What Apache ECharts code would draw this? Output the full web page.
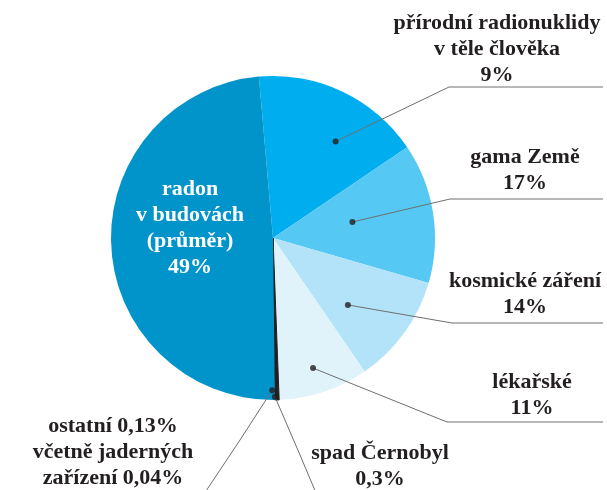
<!DOCTYPE html>
<html>
<head>
<meta charset="utf-8">
<script src="https://cdn.jsdelivr.net/npm/echarts@6/dist/echarts.min.js"></script>
<style>
  html, body { margin: 0; padding: 0; background: #fff; }
  #chart { width: 607px; height: 490px; }
</style>
</head>
<body>
<div id="chart"></div>
<script>
// slices clockwise from the top
const sliceNames = ['prirodni', 'gama', 'kosmicke', 'lekarske', 'cernobyl', 'ostatni', 'radon']
const sliceValues = [17, 14, 11, 9, 0.3, 0.13, 49]
const labelTexts = [
  'přírodní radionuklidy\nv těle člověka\n9%',
  'gama Země\n17%',
  'kosmické záření\n14%',
  'lékařské\n11%',
  'spad Černobyl\n0,3%',
  'ostatní 0,13%\nvčetně jaderných\nzařízení 0,04%',
  'radon\nv budovách\n(průměr)\n49%'
]
const sliceColors = ['#00aeef', '#55c9f3', '#b3e3f8', '#e0f3fb', '#231f20', '#231f20', '#0094ca']

// where the leader lines start inside the slices: [radius fraction, angle from top]
const anchors = [[0.71, 33], [0.5, 78.6], [0.62, 131.8], [0.84, 162.9], [0.98, 179.3], [0.94, 180.3]]

const CX = 273
const CY = 238
const R = 162

// label centre + leader line bend / end
const labelLayoutTable = [
  { x: 497, y: 49, line: [[449, 87], [603, 87]] },
  { x: 525, y: 170, line: [[450, 199], [603, 199]] },
  { x: 525, y: 294, line: [[452, 323], [603, 323]] },
  { x: 532, y: 395, line: [[447, 422], [603, 422]] },
  { x: 380, y: 466, line: [[300, 455], [319, 500]] },
  { x: 113, y: 452, line: [[240, 440], [200, 500]] },
  { x: 190, y: 228, line: null }
]

const anchorPixel = (i) => {
  const [f, a] = anchors[i]
  const rad = (a * Math.PI) / 180
  return [CX + f * R * Math.sin(rad), CY - f * R * Math.cos(rad)]
}

const chart = echarts.init(document.getElementById('chart'))

const labelFont = {
  fontFamily: '"Liberation Serif", "DejaVu Serif", serif',
  fontWeight: 'bold',
  fontSize: 22,
  lineHeight: 26,
  color: '#231f20',
  align: 'center'
}

const pieData = sliceNames.map((name, i) => {
  const item = {
    name,
    value: sliceValues[i],
    itemStyle: { color: sliceColors[i] }
  }
  if (i === 4 || i === 5) {
    item.itemStyle.borderColor = '#231f20'
    item.itemStyle.borderWidth = 1
  }
  return item
})

// transparent copy on top, only carries the labels and leader lines
const labelData = sliceNames.map((name, i) => {
  const item = {
    name,
    value: sliceValues[i],
    label: { formatter: labelTexts[i] }
  }
  if (name === 'radon') {
    item.label.position = 'inside'
    item.label.color = '#fff'
    item.labelLine = { show: false }
  }
  return item
})

chart.setOption({
  backgroundColor: '#fff',
  animation: false,
  polar: { center: [CX, CY], radius: [0, R] },
  angleAxis: { type: 'value', min: 0, max: 360, startAngle: 90, clockwise: true, show: false },
  radiusAxis: { type: 'value', min: 0, max: 1, show: false },
  series: [
    {
      type: 'pie',
      center: [CX, CY],
      radius: [0, R],
      startAngle: 95,
      clockwise: true,
      silent: true,
      z: 2,
      label: { show: false },
      labelLine: { show: false },
      data: pieData
    },
    {
      type: 'pie',
      center: [CX, CY],
      radius: [0, R],
      startAngle: 95,
      clockwise: true,
      silent: true,
      z: 4,
      avoidLabelOverlap: false,
      itemStyle: { color: 'rgba(0,0,0,0)' },
      label: Object.assign({ show: true, position: 'outside' }, labelFont),
      labelLine: {
        show: true,
        lineStyle: { color: '#6f6f6f', width: 1 }
      },
      labelLayout: (params) => {
        const cfg = labelLayoutTable[params.dataIndex]
        const out = { x: cfg.x, y: cfg.y, align: 'center', verticalAlign: 'middle' }
        if (cfg.line) {
          out.labelLinePoints = [anchorPixel(params.dataIndex), cfg.line[0], cfg.line[1]]
        }
        return out
      },
      data: labelData
    },
    {
      type: 'scatter',
      coordinateSystem: 'polar',
      symbol: 'circle',
      symbolSize: 6,
      itemStyle: { color: '#231f20' },
      silent: true,
      z: 5,
      data: anchors
    }
  ]
})
</script>
</body>
</html>
